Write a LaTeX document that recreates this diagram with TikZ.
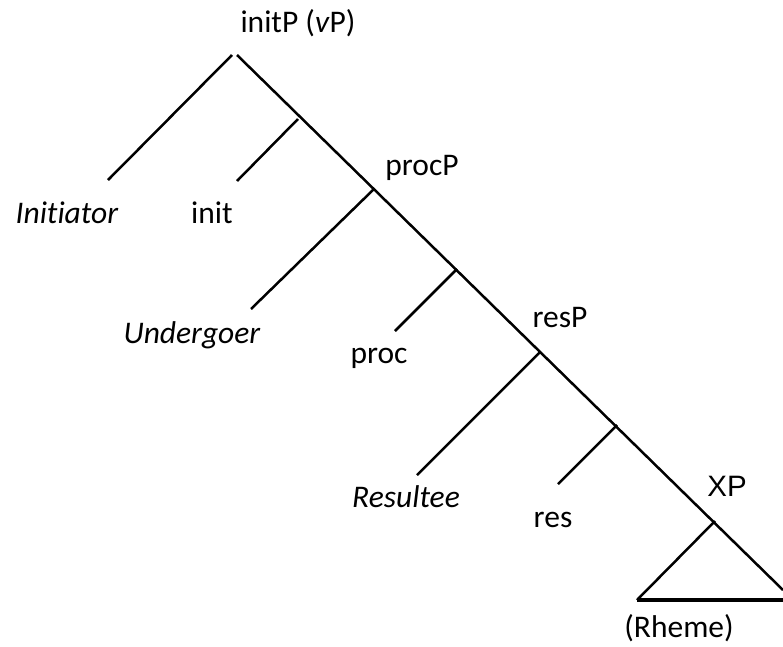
\documentclass[tikz,border=0pt]{standalone}
\usepackage{fontspec}
\setmainfont{Carlito}[Ligatures=NoCommon]
\newfontfamily\arialfont{Liberation Sans}
\begin{document}
\begin{tikzpicture}[x=1pt,y=-1pt,
  lbl/.style={inner sep=0pt,anchor=base,font=\fontsize{31.5}{36}\selectfont},
  branch/.style={line width=2.5pt,line cap=butt},
  base/.style={line width=3.8pt}]
\useasboundingbox (0,0) rectangle (783,646);
% junctions
\coordinate (topL) at (232,55);
\coordinate (topR) at (237,55);
\coordinate (initJ) at (298,119);
\coordinate (procJ) at (374,189);
\coordinate (procHJ) at (457,269);
\coordinate (resJ) at (540,352);
\coordinate (resHJ) at (617,425);
\coordinate (xpJ) at (715,521);
\coordinate (endR) at (783,590);
% leaves
\coordinate (initiatorE) at (108,180);
\coordinate (initE) at (237,181);
\coordinate (undergoerE) at (251,309);
\coordinate (procE) at (395,331);
\coordinate (resulteeE) at (417,475);
\coordinate (resE) at (558,484);
\coordinate (triL) at (637,600);
\coordinate (triR) at (783,600);
% labels
\node[lbl] (initP) at (298,32) {initP (\textit{v}P)};
\node[lbl] (procP) at (422,175) {procP};
\node[lbl] (resP) at (560,327) {resP};
\node[lbl,font=\fontsize{29.5}{34}\selectfont\arialfont] (XP) at (727,496) {XP};
\node[lbl] (initiator) at (67,223) {\textit{Initiator}};
\node[lbl] (init) at (212,223) {init};
\node[lbl] (undergoer) at (192,343) {\textit{Undergoer}};
\node[lbl] (proc) at (379,363) {proc};
\node[lbl] (resultee) at (406,507) {\textit{Resultee}};
\node[lbl] (res) at (553,527) {res};
\node[lbl] (rheme) at (679,637) {(Rheme)};
% branches
\draw[branch] (topL) -- (initiatorE);
\draw[branch] (topR) -- (endR);
\draw[branch] (initJ) -- (initE);
\draw[branch] (procJ) -- (undergoerE);
\draw[branch] (procHJ) -- (procE);
\draw[branch] (resJ) -- (resulteeE);
\draw[branch] (resHJ) -- (resE);
\draw[branch] (xpJ) -- (triL);
\draw[base] (triL) -- (triR);
\end{tikzpicture}
\end{document}
